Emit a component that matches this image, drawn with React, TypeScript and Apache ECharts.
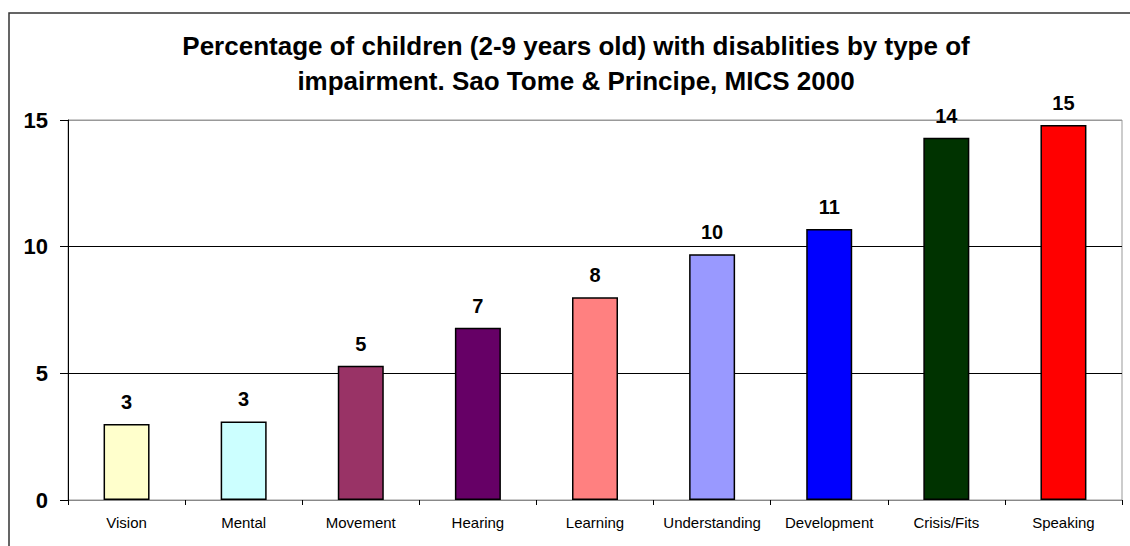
import React, { useEffect, useRef } from "react";
import * as echarts from "echarts";

const categories = [
  "Vision",
  "Mental",
  "Movement",
  "Hearing",
  "Learning",
  "Understanding",
  "Development",
  "Crisis/Fits",
  "Speaking",
];
const values = [3.0, 3.1, 5.3, 6.8, 8.0, 9.7, 10.7, 14.3, 14.8];
const barColors = [
  "#FFFFCC",
  "#CCFFFF",
  "#993366",
  "#660066",
  "#FF8080",
  "#9999FF",
  "#0000FF",
  "#003300",
  "#FF0000",
];
const titleText =
  "Percentage of children (2-9 years old) with disablities by type of\nimpairment. Sao Tome & Principe, MICS 2000";

const FONT = "'Liberation Sans', Arial, sans-serif";

export default function App() {
  const ref = useRef<HTMLDivElement>(null);

  useEffect(() => {
    document.body.style.margin = "0";
    if (!ref.current) return;
    const chart = echarts.init(ref.current, undefined, { renderer: "svg" });
    chart.setOption({
      animation: false,
      backgroundColor: "#fff",
      textStyle: { fontFamily: FONT },
      title: {
        text: titleText,
        left: 571,
        top: 23,
        textAlign: "center",
        textStyle: {
          fontFamily: FONT,
          fontSize: 26,
          fontWeight: "bold",
          color: "#000",
          lineHeight: 35,
        },
      },
      graphic: [
        {
          type: "rect",
          shape: { x: 9, y: 13, width: 1140, height: 600 },
          style: { fill: "none", stroke: "#333", lineWidth: 1.5 },
          silent: true,
        },
      ],
      grid: {
        left: 68,
        top: 120,
        right: 8,
        bottom: 46,
        show: true,
        borderColor: "#999",
        borderWidth: 1,
        backgroundColor: "transparent",
      },
      xAxis: {
        type: "category",
        data: categories,
        axisLine: { lineStyle: { color: "#888", width: 1 } },
        axisTick: { show: true, length: 5, lineStyle: { color: "#000" } },
        axisLabel: {
          color: "#000",
          fontFamily: FONT,
          fontSize: 15,
          margin: 15,
          interval: 0,
        },
      },
      yAxis: {
        type: "value",
        min: 0,
        max: 15,
        interval: 5,
        axisLine: { show: true, lineStyle: { color: "#000", width: 1 } },
        axisTick: { show: true, length: 8, lineStyle: { color: "#000" } },
        axisLabel: {
          color: "#000",
          fontFamily: FONT,
          fontSize: 22,
          fontWeight: "bold",
          margin: 20,
        },
        splitLine: {
          show: true,
          lineStyle: { color: ["#888", "#000", "#000", "#999"], width: 1 },
        },
      },
      series: [
        {
          type: "bar",
          data: values.map((v, i) => ({
            value: v,
            itemStyle: { color: barColors[i] },
          })),
          barWidth: 46,
          itemStyle: { borderColor: "#000", borderWidth: 1.5 },
          label: {
            show: true,
            position: "top",
            distance: 12,
            color: "#000",
            fontFamily: FONT,
            fontSize: 20,
            fontWeight: "bold",
            formatter: (p: any) => String(Math.round(p.value)),
          },
        },
      ],
    });
    return () => chart.dispose();
  }, []);

  return <div ref={ref} style={{ width: 1130, height: 546 }} />;
}
